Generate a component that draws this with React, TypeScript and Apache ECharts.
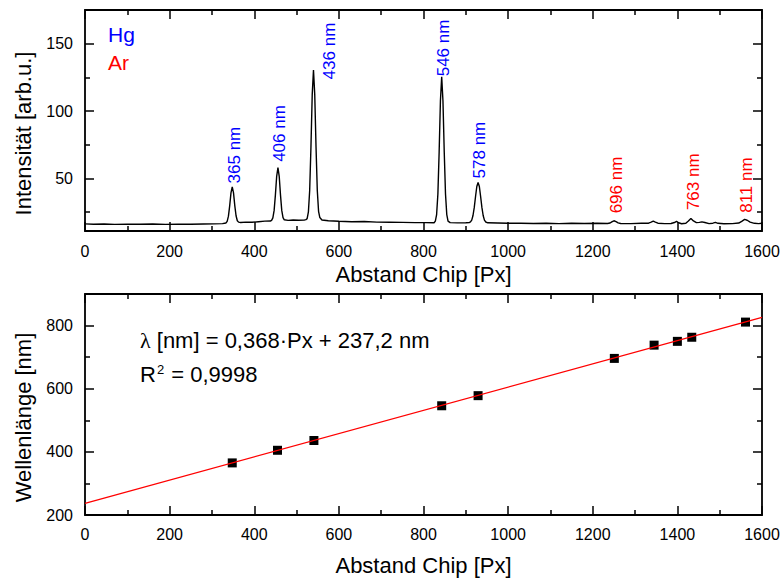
import React, { useEffect, useRef } from "react";
import * as echarts from "echarts";

const FONT = "'Liberation Sans', Arial, Helvetica, sans-serif";

// Spectrum: [pixel, intensity]
const spectrum: [number, number][] = [
  [0, 16.3], [20, 16.0], [45, 16.2], [70, 15.9], [100, 16.1], [130, 16.0], [160, 16.2], [190, 15.9],
  [220, 16.1], [250, 16.0], [280, 16.2], [305, 16.3], [325, 16.5],
  [333, 16.9], [336, 18.1], [339, 22.0], [342, 29.8], [345, 39.3], [348, 43.8], [351, 39.3], [354, 29.8],
  [357, 22.3], [360, 18.6], [363, 17.6], [368, 17.3],
  [380, 17.6], [395, 17.5], [410, 17.9], [425, 18.3], [438, 18.4],
  [441, 18.9], [444, 20.7], [447, 26.3], [450, 37.8], [453, 51.6], [456, 58.1], [459, 51.6], [462, 37.8],
  [465, 26.3], [468, 20.9], [471, 19.3],
  [480, 18.9], [492, 19.2], [505, 19.0], [518, 19.1], [522, 19.4],
  [525, 20.2], [528, 25.2], [531, 41.1], [534, 73.3], [537, 112.0], [540, 130.4], [543, 112.0], [546, 73.3],
  [549, 41.1], [552, 25.6], [555, 21.0], [560, 19.2],
  [575, 18.6], [600, 18.2], [630, 17.9], [660, 18.0], [690, 17.6], [720, 17.5], [750, 17.4], [780, 17.2],
  [805, 17.2], [825, 17.1],
  [828, 18.3], [831, 23.2], [834, 38.5], [837, 69.8], [840, 107.5], [843, 125.4], [846, 107.5], [849, 69.8],
  [852, 38.5], [855, 23.2], [858, 18.3], [863, 17.2],
  [880, 17.0], [900, 17.1], [908, 17.2],
  [911, 17.7], [914, 19.1], [917, 22.5], [920, 28.5], [923, 36.6], [926, 44.0], [929, 47.0], [932, 44.0],
  [935, 36.6], [938, 28.5], [941, 22.5], [944, 19.1], [947, 17.7], [952, 17.1],
  [975, 16.9], [1000, 16.7], [1030, 16.8], [1060, 16.6], [1090, 16.7], [1120, 16.5], [1150, 16.7],
  [1180, 16.6], [1210, 16.7], [1235, 16.6],
  [1241, 16.9], [1245, 17.8], [1250, 18.6], [1255, 17.9], [1260, 17.0], [1266, 16.6],
  [1290, 16.5], [1315, 16.7], [1332, 16.8], [1338, 17.6], [1343, 18.3], [1348, 17.6], [1354, 16.8],
  [1370, 16.5], [1385, 16.6], [1393, 17.3], [1398, 18.1], [1403, 17.1], [1410, 16.4], [1420, 16.7],
  [1426, 18.4], [1432, 20.3], [1438, 18.5], [1445, 17.2], [1452, 17.4], [1458, 17.8], [1465, 17.3],
  [1475, 16.5], [1484, 16.8], [1490, 17.4], [1496, 16.7], [1510, 16.4], [1530, 16.5], [1545, 16.9],
  [1552, 18.2], [1559, 19.6], [1565, 19.0], [1572, 17.6], [1582, 16.7], [1592, 16.5], [1600, 16.7],
];

// Peak annotations
const lineLabels = ["365 nm", "406 nm", "436 nm", "546 nm", "578 nm", "696 nm", "763 nm", "811 nm"];
const lineElements = ["Hg", "Hg", "Hg", "Hg", "Hg", "Ar", "Ar", "Ar"];
const labelPx = [353, 460, 577, 847, 933, 1256, 1437, 1564];
const labelIntensity = [46.3, 62.3, 123.5, 125.8, 50, 24.1, 26.5, 24.5];

// Calibration points
const calibPx = [348, 455, 541, 843, 929, 1251, 1345, 1400, 1434, 1561];
const calibNm = [365, 405, 436, 546, 578, 696, 738, 750, 763, 811];

// Linear fit
const fitSlope = 0.368;
const fitIntercept = 237.2;
const fitRangePx = [0, 1600];

// Axis ticks
const xMin = 0, xMax = 1600, xStep = 200;
const topYMin = 11, topYMax = 175;
const topYMajor = [50, 100, 150];
const topYMinor = [25, 75, 125, 175];
const botYMin = 200, botYMax = 900;
const botYMajor = [200, 400, 600, 800];
const botYMinor = [300, 500, 700, 900];

const elementColor: Record<string, string> = { Hg: "#0000ff", Ar: "#ff0000" };

const tickLine = { color: "#000", width: 1.5 };
const plain = (v: number) => String(v);
const labelStyle = { color: "#000", fontSize: 16, fontFamily: FONT, formatter: plain };
const nameStyle = { color: "#000", fontSize: 22, fontFamily: FONT };

function xAxes(gridIndex: number, name: string, nameGap: number, margin: number) {
  const base = {
    type: "value",
    gridIndex,
    min: xMin,
    max: xMax,
    interval: xStep,
    splitLine: { show: false },
    axisLine: { show: false },
    axisTick: { inside: true, length: 9, lineStyle: tickLine },
    minorTick: { show: true, splitNumber: 2, length: 5, lineStyle: tickLine },
  };
  return [
    {
      ...base,
      position: "bottom",
      axisLabel: { ...labelStyle, margin },
      name,
      nameLocation: "middle",
      nameGap,
      nameTextStyle: nameStyle,
    },
    { ...base, position: "top", axisLabel: { show: false } },
  ];
}

function yAxes(gridIndex: number, min: number, max: number, major: number[], minor: number[], name: string) {
  const base = {
    type: "value",
    gridIndex,
    min,
    max,
    splitLine: { show: false },
    axisLine: { show: false },
  };
  const mk = (pos: string, vals: number[], len: number, withLabel: boolean) => ({
    ...base,
    position: pos,
    axisTick: { inside: true, length: len, lineStyle: tickLine, customValues: vals },
    axisLabel: withLabel
      ? { ...labelStyle, margin: 12, customValues: major }
      : { show: false },
    ...(withLabel
      ? {
          name,
          nameLocation: "middle",
          nameGap: 51,
          nameRotate: 90,
          nameTextStyle: { ...nameStyle, padding: [0, 26, 0, 0] },
        }
      : {}),
  });
  return [
    mk("left", major, 9, true),
    mk("left", minor, 5, false),
    mk("right", major, 9, false),
    mk("right", minor, 5, false),
  ];
}

export default function App() {
  const ref = useRef<HTMLDivElement>(null);

  useEffect(() => {
    if (!ref.current) return;
    const chart = echarts.init(ref.current, undefined, { renderer: "svg" });

    const gridBase = { left: 85, width: 677, height: 221, show: true, borderColor: "#000", borderWidth: 1.8, backgroundColor: "transparent" };

    const option: any = {
      animation: false,
      backgroundColor: "#fff",
      grid: [
        { ...gridBase, top: 10 },
        { ...gridBase, top: 294 },
      ],
      xAxis: [
        ...xAxes(0, "Abstand Chip [Px]", 32, 12),
        ...xAxes(1, "Abstand Chip [Px]", 39, 11),
      ],
      yAxis: [
        ...yAxes(0, topYMin, topYMax, topYMajor, topYMinor, "Intensität [arb.u.]"),
        ...yAxes(1, botYMin, botYMax, botYMajor, botYMinor, "Wellenlänge [nm]"),
      ],
      series: [
        {
          type: "line",
          xAxisIndex: 0,
          yAxisIndex: 0,
          data: spectrum,
          showSymbol: false,
          symbol: "none",
          lineStyle: { color: "#000", width: 1.4 },
          silent: true,
        },
        {
          type: "scatter",
          xAxisIndex: 0,
          yAxisIndex: 0,
          symbolSize: 1,
          itemStyle: { color: "rgba(0,0,0,0)", opacity: 1 },
          silent: true,
          data: labelPx.map((x, i) => ({
            name: lineLabels[i],
            value: [x, labelIntensity[i]],
            label: { color: elementColor[lineElements[i]] },
          })),
          label: {
            show: true,
            formatter: "{b}",
            position: "inside",
            rotate: 90,
            align: "left",
            verticalAlign: "middle",
            fontSize: 17,
            fontFamily: FONT,
            opacity: 1,
          },
        },
        {
          type: "line",
          xAxisIndex: 2,
          yAxisIndex: 4,
          data: fitRangePx.map((x) => [x, fitSlope * x + fitIntercept]),
          showSymbol: false,
          symbol: "none",
          lineStyle: { color: "#ff0000", width: 1.3 },
          silent: true,
        },
        {
          type: "scatter",
          xAxisIndex: 2,
          yAxisIndex: 4,
          symbol: "rect",
          symbolSize: 9,
          itemStyle: { color: "#000", opacity: 1 },
          data: calibPx.map((x, i) => [x, calibNm[i]]),
          silent: true,
        },
      ],
      graphic: [
        {
          type: "text",
          left: 108,
          top: 24,
          style: { text: "Hg", fill: elementColor.Hg, fontSize: 21, fontFamily: FONT },
        },
        {
          type: "text",
          left: 108,
          top: 52,
          style: { text: "Ar", fill: elementColor.Ar, fontSize: 21, fontFamily: FONT },
        },
        {
          type: "text",
          left: 140,
          top: 329,
          style: {
            text: "{l|λ} [nm] = 0,368·Px + 237,2 nm",
            fill: "#000",
            fontSize: 22,
            fontFamily: FONT,
            rich: { l: { fontFamily: "'Liberation Serif', 'DejaVu Serif', serif", fontSize: 22, fill: "#000" } },
          },
        },
        {
          type: "text",
          left: 140,
          top: 363,
          style: {
            text: "R{sup|2} = 0,9998",
            fill: "#000",
            fontSize: 22,
            fontFamily: FONT,
            rich: { sup: { fontSize: 13, fontFamily: FONT, fill: "#000", verticalAlign: "top", padding: [0, 1, 0, 1] } },
          },
        },
      ],
    };

    chart.setOption(option);
    return () => chart.dispose();
  }, []);

  return (
    <div
      ref={ref}
      style={{ position: "fixed", left: 0, top: 0, width: 784, height: 580, background: "#fff" }}
    />
  );
}
